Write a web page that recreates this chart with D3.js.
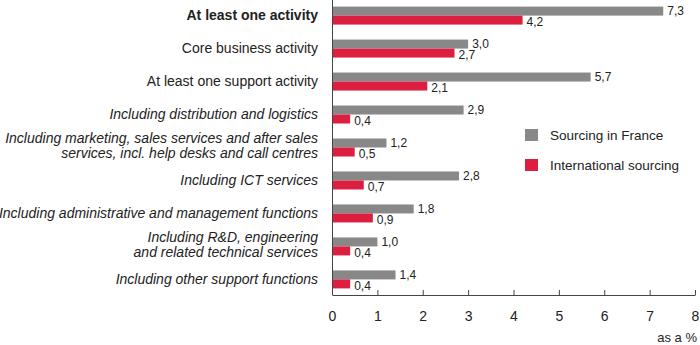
<!DOCTYPE html>
<html>
<head>
    <meta charset="utf-8" />
    <title>Sourcing by activity</title>
    <style>
        body { margin: 0; background: #fff; }
        text { font-family: "Liberation Sans", Arial, sans-serif; fill: #222; }
        .axis path, .axis line { stroke: #444; }
    </style>
    <script src="https://cdn.jsdelivr.net/npm/d3@7/dist/d3.min.js"></script>
</head>
<body>
<script>
    // categories (label lines) and series values, in %
    var categories = [
        ['At least one activity'],
        ['Core business activity'],
        ['At least one support activity'],
        ['Including distribution and logistics'],
        ['Including marketing, sales services and after sales', 'services, incl. help desks and call centres'],
        ['Including ICT services'],
        ['Including administrative and management functions'],
        ['Including R&D, engineering', 'and related technical services'],
        ['Including other support functions']
    ];
    var boldRows = [0];
    var italicRows = [3, 4, 5, 6, 7, 8];
    var france = [7.3, 3.0, 5.7, 2.9, 1.2, 2.8, 1.8, 1.0, 1.4];
    var international = [4.2, 2.7, 2.1, 0.4, 0.5, 0.7, 0.9, 0.4, 0.4];
    var seriesNames = ['Sourcing in France', 'International sourcing'];
    var colors = ['#888888', '#dc1f41'];
    var xTicks = [0, 1, 2, 3, 4, 5, 6, 7, 8];

    var W = 700, H = 345;
    var plotLeft = 332, plotRight = 695, plotTop = 0, plotBottom = 295;

    var svg = d3.select('body').append('svg')
        .attr('width', W)
        .attr('height', H);

    var x = d3.scaleLinear().domain([0, 8]).range([plotLeft, plotRight]);
    var y = d3.scaleBand()
        .domain(d3.range(categories.length))
        .range([plotTop, plotBottom])
        .paddingInner(15 / 33)
        .paddingOuter(0.2);
    var sub = d3.scaleBand().domain([0, 1]).range([0, y.bandwidth()]);

    var fmt = function(v) { return d3.format('.1f')(v).replace('.', ','); };

    var series = [france, international];
    series.forEach(function(vals, s) {
        var g = svg.append('g');
        g.selectAll('rect')
            .data(vals)
            .enter().append('rect')
            .attr('x', x(0))
            .attr('y', function(d, i) { return y(i) + sub(s); })
            .attr('width', function(d) { return x(d) - x(0); })
            .attr('height', sub.bandwidth())
            .attr('fill', colors[s]);

        // value labels
        g.selectAll('text')
            .data(vals)
            .enter().append('text')
            .attr('x', function(d) { return x(d) + 4; })
            .attr('y', function(d, i) { return y(i) + sub(s) + sub.bandwidth() / 2 + (s === 1 ? 2 : 0); })
            .attr('dy', '0.35em')
            .style('font-size', '12px')
            .text(fmt);
    });

    // category labels
    var labels = svg.append('g')
        .selectAll('text')
        .data(categories)
        .enter().append('text')
        .attr('text-anchor', 'end')
        .style('font-size', '14px')
        .style('font-weight', function(d, i) { return boldRows.indexOf(i) >= 0 ? 'bold' : 'normal'; })
        .style('font-style', function(d, i) { return italicRows.indexOf(i) >= 0 ? 'italic' : 'normal'; });

    labels.each(function(lines, i) {
        var cy = y(i) + y.bandwidth() / 2;
        var lh = 15.5;
        var start = cy - (lines.length - 1) * lh / 2 - (lines.length > 1 ? 2 : 0);
        d3.select(this).selectAll('tspan')
            .data(lines)
            .enter().append('tspan')
            .attr('x', 318)
            .attr('y', function(d, j) { return start + j * lh; })
            .attr('dy', '0.35em')
            .text(function(d) { return d; });
    });

    // axes
    svg.append('line')
        .attr('x1', plotLeft + 0.5).attr('x2', plotLeft + 0.5)
        .attr('y1', plotTop).attr('y2', plotBottom)
        .attr('stroke', '#444');

    var xAxis = svg.append('g')
        .attr('class', 'axis')
        .attr('transform', 'translate(0,' + plotBottom + ')')
        .call(d3.axisBottom(x).tickValues(xTicks).tickSize(-5).tickSizeOuter(0).tickPadding(16)
            .tickFormat(function(d) { return d; }));
    xAxis.select('.domain').attr('stroke', '#444');
    xAxis.selectAll('text')
        .style('font-size', '14px')
        .style('font-family', '"Liberation Sans", Arial, sans-serif')
        .attr('fill', '#222');

    svg.append('text')
        .attr('x', 697)
        .attr('y', 342)
        .attr('text-anchor', 'end')
        .style('font-size', '13px')
        .text('as a %');

    // legend
    var legend = svg.append('g')
        .selectAll('g')
        .data(seriesNames)
        .enter().append('g')
        .attr('transform', function(d, i) { return 'translate(525,' + (129 + i * 30) + ')'; });
    legend.append('rect')
        .attr('width', 13)
        .attr('height', 12)
        .attr('fill', function(d, i) { return colors[i]; });
    legend.append('text')
        .attr('x', 25)
        .attr('y', 6)
        .attr('dy', '0.35em')
        .style('font-size', '13.5px')
        .text(function(d) { return d; });
</script>
</body>
</html>
